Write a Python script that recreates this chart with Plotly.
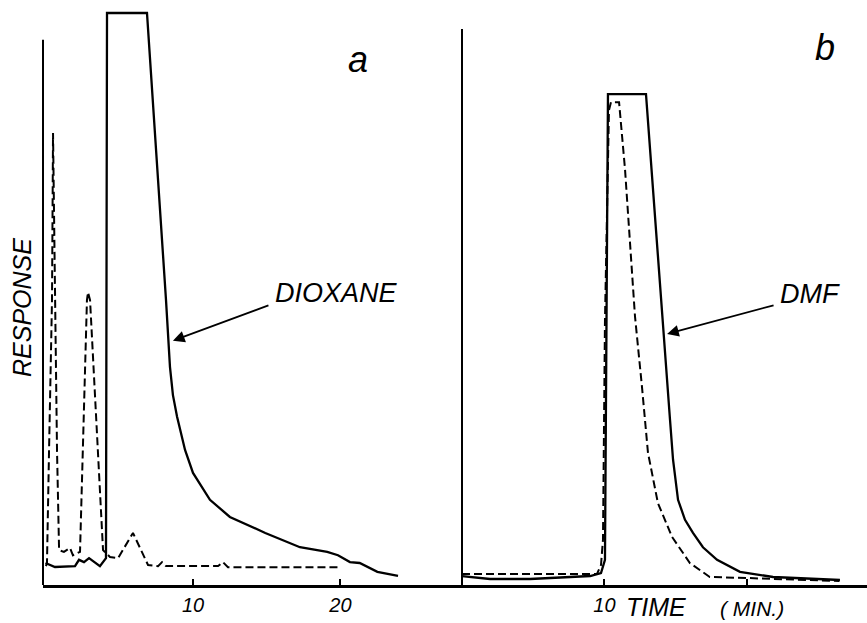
import plotly.graph_objects as go

# ---------------- data (time in min, response in arbitrary units) ----------------
# Panel a
A_SOLID_T = [0.0, 0.64, 2.0, 2.27, 2.61, 2.95, 3.69, 4.1, 4.17, 6.88, 8.17, 8.31, 8.44, 8.64,
             8.92, 9.46, 10.0, 11.15, 12.5, 14.9, 17.25, 19.1, 19.83, 20.64, 21.3, 22.5, 23.9]
A_SOLID_R = [3.85, 3.15, 3.3, 4.4, 4.0, 4.7, 3.3, 4.7, 100, 100, 49.8, 42.8, 38.1, 33.2,
             29.4, 23.6, 19.6, 14.9, 11.9, 9.1, 6.6, 5.8, 5.2, 4.0, 3.85, 2.3, 1.6]

A_DASH_T = [0.03, 0.1, 0.24, 0.44, 0.51, 0.64, 0.78, 0.92, 1.25, 1.66, 1.86, 2.34, 2.81,
            2.88, 3.02, 3.9, 4.37, 4.92, 5.93, 6.95, 7.63, 7.9, 8.17, 11.7, 12.03, 12.37, 19.97]
A_DASH_R = [3.3, 3.85, 23.6, 49.8, 79.0, 49.8, 23.6, 6.1, 5.8, 6.5, 5.2, 5.8, 49.8,
            51.2, 49.8, 6.1, 4.9, 4.7, 9.1, 3.5, 3.3, 4.0, 3.3, 3.3, 4.0, 3.1, 3.1]

# Panel b
B_SOLID_T = [0.0, 1.97, 4.78, 9.0, 9.76, 10.04, 10.25, 12.92, 14.61, 14.82, 15.17, 15.66,
             16.22, 16.92, 17.91, 19.52, 21.84, 26.54]
B_SOLID_R = [1.57, 1.05, 1.05, 1.57, 2.1, 4.4, 85.8, 85.8, 28.8, 21.9, 14.9, 11.4,
             9.1, 6.6, 4.4, 2.3, 1.4, 0.87]

B_DASH_T = [0.0, 9.48, 9.76, 9.9, 10.04, 10.32, 10.46, 11.03, 11.45, 12.15, 12.64, 13.06,
            13.76, 14.75, 16.0, 17.4, 20.0, 26.5]
B_DASH_R = [1.92, 1.92, 3.5, 7.9, 46.3, 83.0, 84.4, 84.4, 72.6, 46.9, 34.6, 23.1,
            14.3, 8.4, 3.85, 1.4, 1.22, 0.7]

A_TICKS = [10, 20]
A_TICK_LABELS = ["10", "20"]
B_TICKS = [10, 20]
B_TICK_LABELS = ["10", ""]

# ---------------- figure ----------------
FONT = "Liberation Sans"
W, H = 867, 623
BASE_PX = 585

fig = go.Figure()
solid = dict(color="black", width=2.3)
dashed = dict(color="black", width=2.0, dash="8px,4px")

fig.add_trace(go.Scatter(x=A_DASH_T, y=A_DASH_R, mode="lines", line=dashed, xaxis="x", yaxis="y"))
fig.add_trace(go.Scatter(x=A_SOLID_T, y=A_SOLID_R, mode="lines", line=solid, xaxis="x", yaxis="y"))
fig.add_trace(go.Scatter(x=B_DASH_T, y=B_DASH_R, mode="lines", line=dashed, xaxis="x2", yaxis="y"))
fig.add_trace(go.Scatter(x=B_SOLID_T, y=B_SOLID_R, mode="lines", line=solid, xaxis="x2", yaxis="y"))

tickfont = dict(family=FONT, size=20, color="black", style="italic")
common_x = dict(showgrid=False, zeroline=False, showline=True, linecolor="black", linewidth=2.5,
                ticks="inside", ticklen=6, tickwidth=2, tickcolor="black", tickfont=tickfont,
                anchor="y", fixedrange=True)

fig.update_layout(
    width=W, height=H, autosize=False,
    margin=dict(l=0, r=0, t=0, b=0, pad=0),
    paper_bgcolor="white", plot_bgcolor="white",
    showlegend=False,
    xaxis=dict(domain=[43 / W, 452 / W], range=[-0.17, 27.56],
               tickvals=A_TICKS, ticktext=A_TICK_LABELS, **common_x),
    xaxis2=dict(domain=[452 / W, 1.0], range=[-0.702, 28.44],
                tickvals=B_TICKS, ticktext=B_TICK_LABELS, **common_x),
    yaxis=dict(domain=[(H - BASE_PX) / H, 1.0], range=[0, 102.27], visible=False, fixedrange=True),
)

# y-axis lines of both panels
fig.add_shape(type="line", xref="x domain", yref="y", x0=0, x1=0, y0=0, y1=95.3,
              line=dict(color="black", width=2))
fig.add_shape(type="line", xref="x2", yref="y", x0=0, x1=0, y0=0, y1=97.2,
              line=dict(color="black", width=2))

txt = lambda s: dict(family=FONT, size=s, color="black", style="italic")
ctr = dict(xanchor="center", yanchor="middle", showarrow=False)

# arrows
fig.add_annotation(x=8.64, y=42.7, xref="x", yref="y", text="", showarrow=True,
                   arrowhead=2, arrowsize=1.3, arrowwidth=1.8, arrowcolor="black", ax=97, ay=-36)
fig.add_annotation(x=14.4, y=43.9, xref="x2", yref="y", text="", showarrow=True,
                   arrowhead=2, arrowsize=1.3, arrowwidth=1.8, arrowcolor="black", ax=108, ay=-29)

# labels
fig.add_annotation(x=19.7, y=51.0, xref="x", yref="y", text="DIOXANE", font=txt(27), **ctr)
fig.add_annotation(x=24.47, y=50.9, xref="x2", yref="y", text="DMF", font=txt(27), **ctr)
fig.add_annotation(x=21.2, y=91.8, xref="x", yref="y", text="a", font=txt(36), **ctr)
fig.add_annotation(x=25.5, y=93.9, xref="x2", yref="y", text="b", font=txt(36), **ctr)
fig.add_annotation(x=22 / W, y=1 - 308 / H, xref="paper", yref="paper", text="RESPONSE",
                   textangle=-90, font=txt(25), **ctr)
fig.add_annotation(x=656 / W, y=1 - 607 / H, xref="paper", yref="paper", text="TIME",
                   font=txt(25), **ctr)
fig.add_annotation(x=752 / W, y=1 - 608 / H, xref="paper", yref="paper", text="( MIN.)",
                   font=txt(21), **ctr)

fig.write_html("out.html")
